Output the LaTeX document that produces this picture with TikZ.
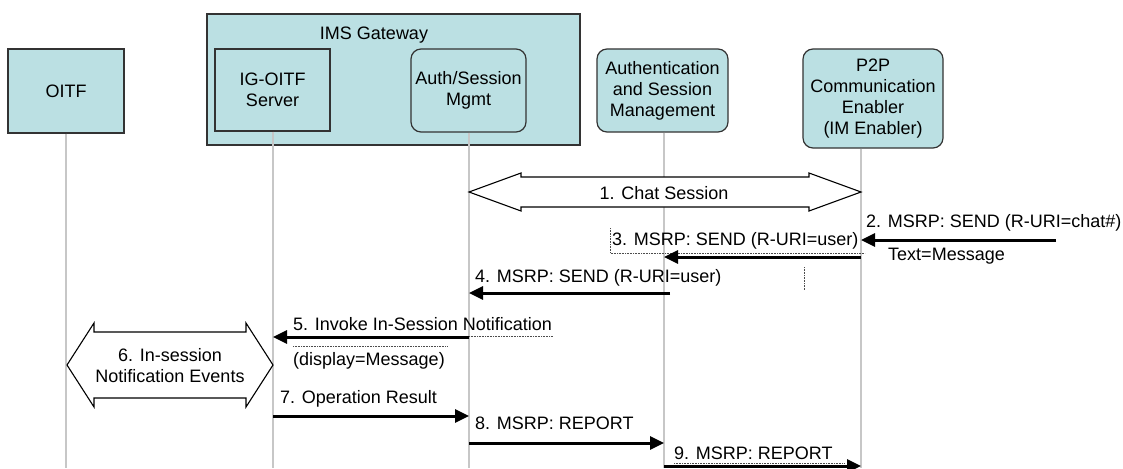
\documentclass[tikz,border=0pt]{standalone}
\usepackage{fontspec}
\setmainfont{Liberation Sans}
\usetikzlibrary{arrows.meta,calc}
\definecolor{boxfill}{RGB}{187,224,227}

\begin{document}
\begin{tikzpicture}[x=1pt,y=-1pt,
  every node/.style={font=\fontsize{18}{21}\selectfont,align=center,inner sep=0pt},
  ent/.style={rectangle,draw=black!80,line width=1.2pt,fill=boxfill},
  rent/.style={ent,rounded corners=10pt},
  life/.style={draw=black!22,line width=1.5pt},
  msg/.style={-{Triangle[length=14pt,width=13pt]},line width=3pt},
  bigarr/.style={draw=black,line width=1.1pt,fill=white,line join=miter},
  frm/.style={densely dotted,line width=0.6pt,black!70},
  lab/.style={inner sep=0pt},
]
\useasboundingbox (0,0) rectangle (1123,468);

\node[ent,minimum width=373pt,minimum height=131pt] at (393.5,79.5) (gw) {};
\node[lab] at (374,35) (gwlab) {IMS Gateway};

\node[ent,minimum width=116pt,minimum height=84pt]   at (66,91)     (oitf) {OITF};
\node[ent,minimum width=115pt,minimum height=82pt]   at (272.5,90)  (igs)  {IG-OITF\\Server};
\node[rent,minimum width=115pt,minimum height=83pt]  at (468.5,90.5) (asm) {Auth/Session\\Mgmt};
\node[rent,minimum width=131pt,minimum height=83pt]  at (662.5,90.5) (auth) {Authentication\\and Session\\Management};
\node[rent,minimum width=140pt,minimum height=99pt]  at (873,98.5)  (p2p)  {P2P\\Communication\\Enabler\\(IM Enabler)};

\coordinate (oitfL) at (66,468);
\coordinate (igsL)  at (273,468);
\coordinate (asmL)  at (469,468);
\coordinate (authL) at (664,468);
\coordinate (p2pL)  at (861,468);

\draw[life] (oitfL |- oitf.south) -- (oitfL);
\draw[life] (igsL |- igs.south)   -- (igsL);
\draw[life] (asmL |- asm.south)   -- (asmL);
\draw[life] (authL |- auth.south) -- (authL);
\draw[life] (p2pL |- p2p.south)   -- (p2pL);

% 1. chat session
\coordinate (chatL) at (asmL |- 0,192);
\coordinate (chatR) at (p2pL |- 0,192);
\draw[bigarr] (chatL) -- ++(52,-19) -- ++(0,4) -- ($(chatR)+(-52,-15)$) -- ++(0,-4)
  -- (chatR) -- ++(-52,19) -- ++(0,-4) -- ($(chatL)+(52,15)$) -- ++(0,4) -- cycle;
\node[lab] at (authL |- 0,193) (chatlab) {1. Chat Session};

% 2.
\coordinate (m2start) at (1056,240);
\draw[msg] (m2start) -- (p2pL |- m2start);
\node[lab,anchor=west] at (866,223) (m2lab) {2. MSRP: SEND (R-URI=chat\#)};
\node[lab,anchor=west] at (888,256) (m2txt) {Text=Message};

% 3.
\draw[frm] (610,228) -- (610,253) -- (865,253);
\draw[msg] (p2pL |- 0,257) -- (authL |- 0,257);
\node[lab,anchor=west] at (612,241) (m3lab) {3. MSRP: SEND (R-URI=user)};
\draw[frm] (804,267) -- (804,290);

% 4.
\draw[msg] ($(authL |- 0,293)+(6,0)$) -- (asmL |- 0,293);
\node[lab,anchor=west] at (475,278) (m4lab) {4. MSRP: SEND (R-URI=user)};

% 5.
\draw[msg] (asmL |- 0,337) -- (igsL |- 0,337);
\draw[frm] (asmL |- 0,336) -- (553,336);
\node[lab,anchor=west] at (293,324) (m5lab) {5. Invoke In-Session Notification};
\draw[frm] (293,346) -- (447,346);
\node[lab,anchor=west] at (293,361) (m5txt) {(display=Message)};

% 6. events
\coordinate (evL) at (67,365);
\coordinate (evR) at (igsL |- 0,365);
\draw[bigarr] (evL) -- ++(27,-42) -- ++(0,9) -- ($(evR)+(-27,-33)$) -- ++(0,-9)
  -- (evR) -- ++(-27,42) -- ++(0,-9) -- ($(evL)+(27,33)$) -- ++(0,9) -- cycle;
\node[lab] at (170,366) (evlab) {6. In-session\\Notification Events};

% 7. - 9.
\draw[msg] (igsL |- 0,416) -- (asmL |- 0,416);
\node[lab,anchor=west] at (280,399) (m7lab) {7. Operation Result};
\draw[msg] (asmL |- 0,443) -- (authL |- 0,443);
\node[lab,anchor=west] at (475,423) (m8lab) {8. MSRP: REPORT};
\draw[frm] (674,463) -- (845,463);
\draw[msg] (authL |- 0,466) -- (p2pL |- 0,466);
\node[lab,anchor=west] at (674,453) (m9lab) {9. MSRP: REPORT};
\end{tikzpicture}
\end{document}
